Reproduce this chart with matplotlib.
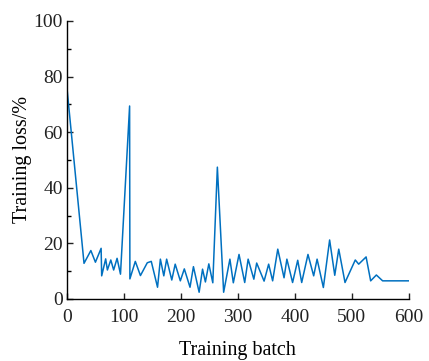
import numpy as np
import matplotlib
matplotlib.use('Agg')
import matplotlib.pyplot as plt
from matplotlib.ticker import MultipleLocator

batch = [0, 30, 42, 50, 60, 61, 68, 71, 77, 82, 88, 94, 110, 110.5, 120, 129, 141, 148,
         159, 164, 170, 175, 184, 190, 199, 206, 216, 222, 232, 238, 243, 249, 256, 264,
         275, 286, 292, 302, 312, 318, 328, 333, 346, 354, 361, 370, 381, 386, 396, 405,
         412, 423, 433, 439, 450, 461, 470, 477, 488, 506, 512, 525, 533, 543, 554, 600]
loss = [76, 12.8, 17.4, 13.2, 18.2, 8.3, 14.4, 10.4, 14, 10.4, 14.6, 8.9, 69.4, 7.2, 13.5,
        8.4, 13, 13.5, 4.2, 14.3, 8.3, 14.3, 6.8, 12.5, 6.5, 10.8, 4.2, 11.6, 2.4, 10.7,
        6.1, 12.6, 5.8, 47.4, 2.4, 14.3, 5.8, 16, 5.9, 14.3, 7.1, 12.9, 6.4, 12.5, 6.5,
        17.9, 7.6, 14.3, 5.9, 13.9, 5.9, 16, 8.3, 14.3, 4.1, 21.2, 8.5, 17.9, 5.9, 14,
        12.5, 15.1, 6.5, 8.6, 6.5, 6.5]

plt.rcParams['font.family'] = ['Liberation Serif', 'DejaVu Serif']

fig = plt.figure(figsize=(4.29, 3.61), dpi=100)
ax = fig.add_axes([0.156, 0.172, 0.797, 0.770])

ax.plot(batch, loss, color='#0070C0', linewidth=1.1)

ax.set_xlim(0, 600)
ax.set_ylim(0, 100)
ax.xaxis.set_major_locator(MultipleLocator(100))
ax.yaxis.set_major_locator(MultipleLocator(20))
ax.yaxis.set_minor_locator(MultipleLocator(10))

ax.spines['top'].set_visible(False)
ax.spines['right'].set_visible(False)
ax.spines['left'].set_linewidth(1.0)
ax.spines['bottom'].set_linewidth(1.0)
ax.tick_params(axis='both', which='major', direction='in', length=4.5, width=1.0,
               labelsize=14, colors='#222222')
ax.tick_params(axis='y', which='minor', direction='in', length=3, width=1.0)
ax.tick_params(axis='x', pad=7)
ax.tick_params(axis='y', pad=3)

ax.set_xlabel('Training batch', fontsize=14.5, labelpad=11)
ax.set_ylabel('Training loss/%', fontsize=14.5, labelpad=1)

fig.savefig('out.png', dpi=100)
